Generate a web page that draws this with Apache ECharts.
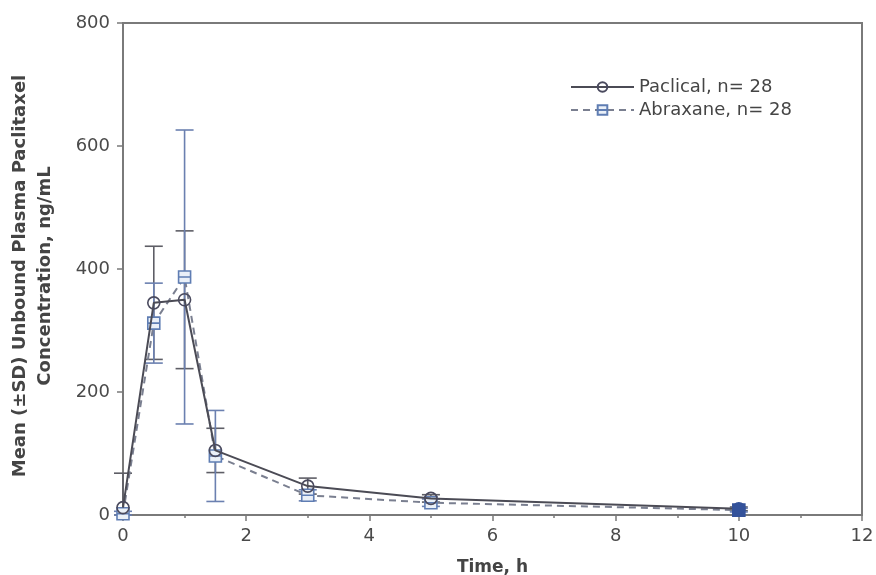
<!DOCTYPE html>
<html><head><meta charset="utf-8">
<script src="https://cdn.jsdelivr.net/npm/echarts@6/dist/echarts.min.js"></script>
<style>html,body{margin:0;padding:0;background:#fff}#c{width:876px;height:575px}</style>
</head><body><div id="c"></div>
<script>
const times = [0, 0.5, 1, 1.5, 3, 5, 10];
const paclicalMean = [12, 345, 350, 105, 47, 27, 10];
const paclicalSD   = [56, 92, 112, 36, 13, 6, 3];
const abraxaneMean = [2, 312, 387, 96, 32, 20, 8];
const abraxaneSD   = [4, 65, 239, 74, 9, 6, 3];
const xTicks = [0, 2, 4, 6, 8, 10, 12];
const yTicks = [0, 200, 400, 600, 800];
const seriesNames = ['Paclical, n= 28', 'Abraxane, n= 28'];
const yTitle = 'Mean (±SD) Unbound Plasma Paclitaxel\nConcentration, ng/mL';
const xTitle = 'Time, h';

const font = '"DejaVu Sans", Verdana, sans-serif';
const grayC = '#4b4b55';
const blueC = '#5f7db3';
const navy = '#34529a';

function meanData(means) {
  return times.map((t, i) => {
    const d = { value: [t, means[i]] };
    if (t === 10) d.itemStyle = { color: navy, borderColor: navy };
    return d;
  });
}
function errData(means, sds) {
  return times.map((t, i) => [t, Math.max(0, means[i] - sds[i]), means[i] + sds[i]]);
}
function errRender(color) {
  return function (params, api) {
    const x = api.value(0);
    const lo = api.coord([x, api.value(1)]);
    const hi = api.coord([x, api.value(2)]);
    const w = 9;
    const style = { stroke: color, lineWidth: 1.6, fill: null };
    return {
      type: 'group',
      children: [
        { type: 'line', shape: { x1: hi[0], y1: hi[1], x2: lo[0], y2: lo[1] }, style },
        { type: 'line', shape: { x1: hi[0] - w, y1: hi[1], x2: hi[0] + w, y2: hi[1] }, style },
        { type: 'line', shape: { x1: lo[0] - w, y1: lo[1], x2: lo[0] + w, y2: lo[1] }, style }
      ]
    };
  };
}

const chart = echarts.init(document.getElementById('c'));
chart.setOption({
  backgroundColor: '#fff',
  animation: false,
  grid: { left: 123, right: 14, top: 23, bottom: 60, show: true, borderColor: '#7a7a7a', borderWidth: 2,
          containLabel: false, outerBoundsMode: 'none' },
  legend: {
    data: seriesNames, orient: 'vertical', left: 565, top: 73, itemGap: 5,
    itemWidth: 63, itemHeight: 12,
    textStyle: { fontFamily: font, fontSize: 18, color: '#454545' }
  },
  graphic: [{
    type: 'text', x: 33, y: 276, rotation: Math.PI / 2,
    style: { text: yTitle, font: 'bold 18px ' + font, fill: '#444', align: 'center', verticalAlign: 'middle', lineHeight: 25 }
  }],
  xAxis: {
    type: 'value', min: xTicks[0], max: xTicks[xTicks.length - 1], interval: 2,
    name: xTitle, nameLocation: 'middle', nameGap: 44,
    nameTextStyle: { fontFamily: font, fontSize: 17, fontWeight: 'bold', color: '#444' },
    axisLine: { lineStyle: { color: '#7a7a7a', width: 2 } },
    axisTick: { show: true, length: 6, lineStyle: { color: '#7a7a7a', width: 1.5 } },
    minorTick: { show: true, splitNumber: 2, length: 3, lineStyle: { color: '#7a7a7a', width: 1.5 } },
    axisLabel: { fontFamily: font, fontSize: 18, color: '#4a4a4a', margin: 12 },
    splitLine: { show: false }
  },
  yAxis: {
    type: 'value', min: yTicks[0], max: yTicks[yTicks.length - 1], interval: 200,
    axisLine: { lineStyle: { color: '#7a7a7a', width: 2 } },
    axisTick: { show: true, length: 6, lineStyle: { color: '#7a7a7a', width: 1.5 } },
    axisLabel: { fontFamily: font, fontSize: 18, color: '#4a4a4a', margin: 13 },
    splitLine: { show: false }
  },
  series: [
    {
      type: 'custom', name: 'pErr', renderItem: errRender('#5e5e66'),
      data: errData(paclicalMean, paclicalSD), encode: { x: 0, y: [1, 2] }, z: 1, silent: true
    },
    {
      type: 'custom', name: 'aErr', renderItem: errRender('#6b80b0'),
      data: errData(abraxaneMean, abraxaneSD), encode: { x: 0, y: [1, 2] }, z: 1, silent: true
    },
    {
      type: 'line', name: seriesNames[1], data: meanData(abraxaneMean),
      symbol: 'path://M0,0H10V10H0Z M0,5H10', symbolSize: 12,
      lineStyle: { color: '#7a7f90', width: 2, type: [7, 5] },
      itemStyle: { color: '#eaf0f8', borderColor: blueC, borderWidth: 1.6 },
      z: 3
    },
    {
      type: 'line', name: seriesNames[0], data: meanData(paclicalMean),
      symbol: 'circle', symbolSize: 12,
      lineStyle: { color: grayC, width: 2 },
      itemStyle: { color: 'rgba(255,255,255,0)', borderColor: '#4a4a5e', borderWidth: 1.6 },
      z: 4
    }
  ]
});
</script></body></html>
